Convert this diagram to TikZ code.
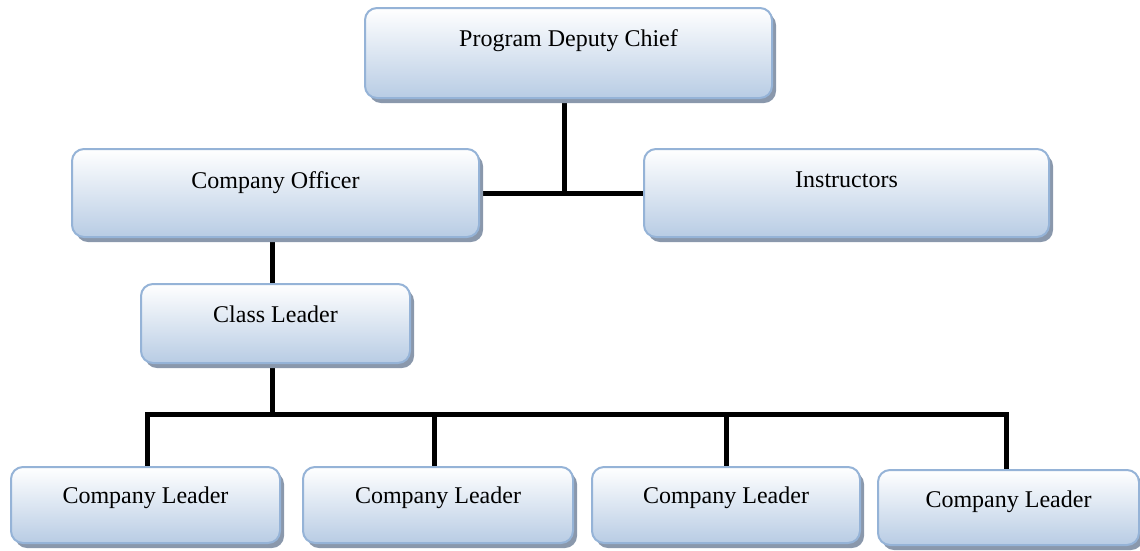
\documentclass[tikz,border=0pt]{standalone}
\usepackage{fontspec}
\setmainfont{Liberation Serif}
\usetikzlibrary{shadows}
\pgfdeclarelayer{background}
\pgfsetlayers{background,main}
\definecolor{boxborder}{RGB}{149,179,215}
\definecolor{boxbottom}{RGB}{184,204,228}
\definecolor{boxshadow}{RGB}{138,152,172}
\tikzset{
  orgbox/.style={draw=boxborder, line width=2pt, rounded corners=12pt,
    top color=white, bottom color=boxbottom, inner sep=0pt, align=center,
    font=\fontsize{24}{28}\selectfont,
    drop shadow={shadow xshift=4pt, shadow yshift=-5pt, fill=boxshadow, opacity=1}},
  link/.style={line width=5pt, black, line join=miter}
}
\begin{document}
\begin{tikzpicture}[x=1pt, y=-1pt]
\useasboundingbox (0,0) rectangle (1140,550);
\node[orgbox, minimum width=407, minimum height=90, text height=38, text depth=52] (pdc) at (568.5,53) {Program Deputy Chief};
\node[orgbox, minimum width=407, minimum height=88, text height=39, text depth=49] (co) at (275.5,193) {Company Officer};
\node[orgbox, minimum width=405, minimum height=88, text height=38, text depth=50] (ins) at (846.5,193) {Instructors};
\node[orgbox, minimum width=269, minimum height=79, text height=38, text depth=41] (cl) at (275.5,323.5) {Class Leader};
\node[orgbox, minimum width=269, minimum height=76, text height=36, text depth=40] (l1) at (145.5,505) {Company Leader};
\node[orgbox, minimum width=270, minimum height=76, text height=36, text depth=40] (l2) at (438,505) {Company Leader};
\node[orgbox, minimum width=268, minimum height=76, text height=36, text depth=40] (l3) at (726,505) {Company Leader};
\node[orgbox, minimum width=261, minimum height=75, text height=37, text depth=38] (l4) at (1008.5,507.5) {Company Leader};
\coordinate (bar) at (272,414);
\begin{pgfonlayer}{background}
\draw[link] ([xshift=-4pt]pdc.south) -- ([xshift=-4pt]pdc.south |- co.east);
\draw[link] (co.east) -- (ins.west);
\draw[link] ([xshift=-3pt]co.south) -- ([xshift=-3pt]cl.north);
\draw[link] ([xshift=-3pt]cl.south) -- ([xshift=-3pt]cl.south |- bar);
\draw[link] ([xshift=2pt]l1.north) -- ([xshift=2pt]l1.north |- bar) -- ([xshift=-2pt]l4.north |- bar) -- ([xshift=-2pt]l4.north);
\draw[link] ([xshift=-4pt]l2.north) -- ([xshift=-4pt]l2.north |- bar);
\draw[link] (l3.north) -- (l3.north |- bar);
\end{pgfonlayer}
\end{tikzpicture}
\end{document}
